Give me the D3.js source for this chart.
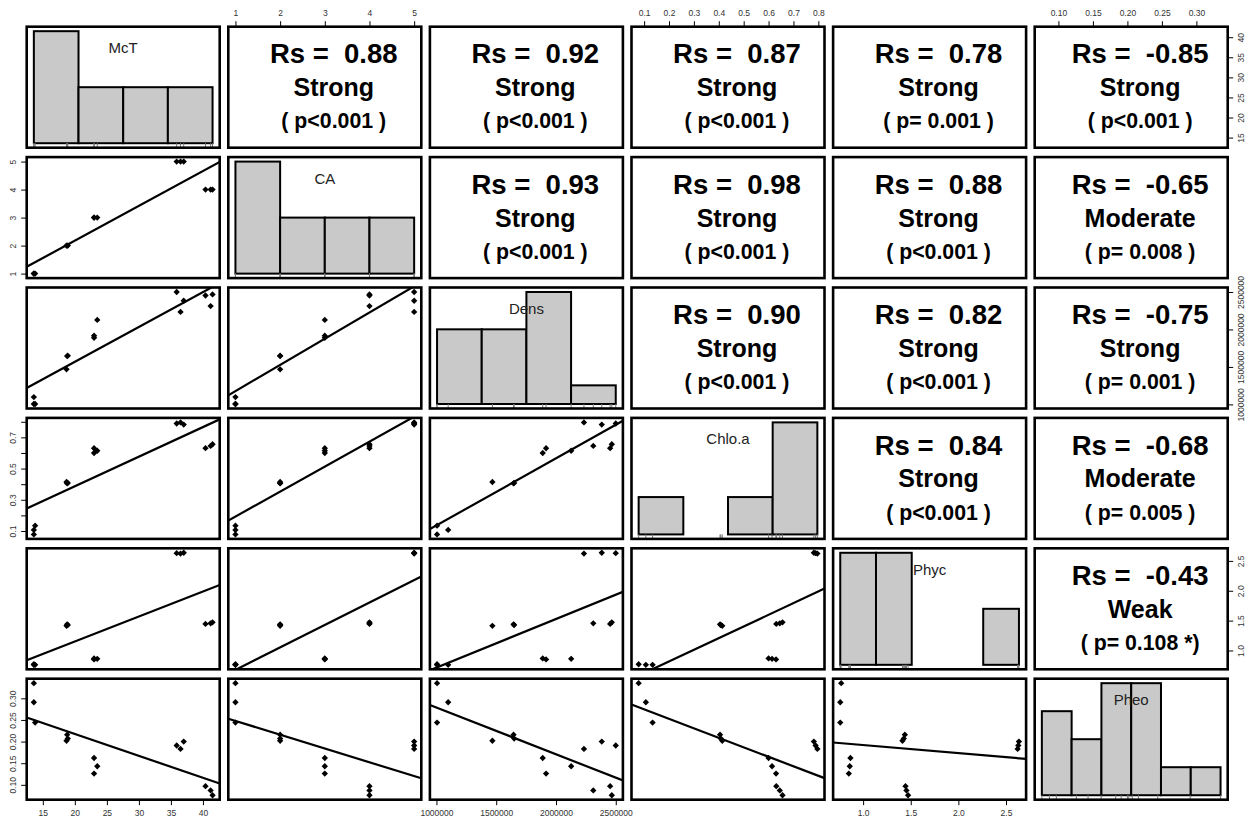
<!DOCTYPE html>
<html>
<head>
<meta charset="utf-8">
<script src="https://cdn.jsdelivr.net/npm/d3@7"></script>
<style>
  body { margin: 0; background: #fff; }
  svg { display: block; }
  text { font-family: "Liberation Sans", Arial, sans-serif; }
</style>
</head>
<body>
<svg></svg>
<script>
// 15 samples, 5 groups of 3
const varNames = ['McT', 'CA', 'Dens', 'Chlo.a', 'Phyc', 'Pheo']
const sampleMcT  = [13.6, 13.6, 13.8, 18.7, 18.8, 18.9, 23.0, 23.5, 23.0, 40.4, 41.2, 41.5, 35.9, 36.5, 37.0]
const sampleCA   = [1, 1, 1, 2, 2, 2, 3, 3, 3, 4, 4, 4, 5, 5, 5]
const sampleDens = [1005000, 1098000, 1005000, 1468000, 1645000, 1650000, 1889000, 2127000, 1917000,
                    2453000, 2312000, 2467000, 2500000, 2234000, 2383000]
const sampleChlo = [0.078, 0.107, 0.134, 0.414, 0.405, 0.408, 0.600, 0.614, 0.630, 0.631, 0.645, 0.656, 0.789, 0.796, 0.782]
const samplePhyc = [0.77, 0.76, 0.76, 1.413, 1.438, 1.427, 0.867, 0.860, 0.850, 1.445, 1.455, 1.472, 2.629, 2.622, 2.636]
const samplePheo = [0.335, 0.291, 0.244, 0.202, 0.216, 0.207, 0.162, 0.143, 0.126, 0.097, 0.087, 0.076, 0.191, 0.183, 0.200]

// histogram counts on the diagonal
const histMcT  = [6, 3, 3, 3]
const histCA   = [6, 3, 3, 3]
const histDens = [4, 4, 6, 1]
const histChlo = [3, 0, 3, 9]
const histPhyc = [6, 6, 0, 0, 3]
const histPheo = [3, 2, 4, 4, 1, 1]

// upper panels, row by row
const rsValues   = [0.88, 0.92, 0.87, 0.78, -0.85, 0.93, 0.98, 0.88, -0.65, 0.90, 0.82, -0.75, 0.84, -0.68, -0.43]
const rsStrength = ['Strong', 'Strong', 'Strong', 'Strong', 'Strong', 'Strong', 'Strong', 'Strong', 'Moderate',
                    'Strong', 'Strong', 'Strong', 'Strong', 'Moderate', 'Weak']
const rsP = ['( p<0.001 )', '( p<0.001 )', '( p<0.001 )', '( p= 0.001 )', '( p<0.001 )',
             '( p<0.001 )', '( p<0.001 )', '( p<0.001 )', '( p= 0.008 )',
             '( p<0.001 )', '( p<0.001 )', '( p= 0.001 )',
             '( p<0.001 )', '( p= 0.005 )', '( p= 0.108 *)']

// tick values and labels
const mctTicks  = [15, 20, 25, 30, 35, 40]
const caTicks   = [1, 2, 3, 4, 5]
const densTicks = [1000000, 1500000, 2000000, 2500000]
const chloTicks = [0.1, 0.2, 0.3, 0.4, 0.5, 0.6, 0.7, 0.8]
const phycTicks = [1.0, 1.5, 2.0, 2.5]
const pheoTicks = [0.10, 0.15, 0.20, 0.25, 0.30]
const mctLabels  = ['15', '20', '25', '30', '35', '40']
const caLabels   = ['1', '2', '3', '4', '5']
const densLabels = ['1000000', '1500000', '2000000', '2500000']
const chloTopLabels  = ['0.1', '0.2', '0.3', '0.4', '0.5', '0.6', '0.7', '0.8']
const chloLeftLabels = ['0.1', '', '0.3', '', '0.5', '', '0.7', '']
const phycLabels = ['1.0', '1.5', '2.0', '2.5']
const pheoLabels = ['0.10', '0.15', '0.20', '0.25', '0.30']

const columns = [sampleMcT, sampleCA, sampleDens, sampleChlo, samplePhyc, samplePheo]
const hists = [histMcT, histCA, histDens, histChlo, histPhyc, histPheo]

const W = 1246, H = 819
const marginLeft = 26.7, marginTop = 26.7
const pw = 193, ph = 121
const stepX = 201.6, stepY = 130.4
const n = varNames.length

let svg = d3.select('svg').attr('width', W).attr('height', H)
svg.append('rect').attr('width', W).attr('height', H).attr('fill', '#fff')

function padded(vals) {
  let [a, b] = d3.extent(vals)
  let r = b - a
  return [a - 0.04 * r, b + 0.04 * r]
}

let xScales = columns.map((v, j) => d3.scaleLinear().domain(padded(v))
  .range([marginLeft + j * stepX, marginLeft + j * stepX + pw]))
let yScales = columns.map((v, i) => d3.scaleLinear().domain(padded(v))
  .range([marginTop + i * stepY + ph, marginTop + i * stepY]))

let defs = svg.append('defs')
let diamond = d3.symbol(d3.symbolSquare, 20)
let upperIdx = 0

for (let i = 0; i < n; i++) {
  for (let j = 0; j < n; j++) {
    let x = xScales[j], y = yScales[i]
    let x0 = x.range()[0], y0 = y.range()[1]
    let g = svg.append('g')

    if (i > j) {
      // scatter + lm line
      let id = `clip-${i}-${j}`
      defs.append('clipPath').attr('id', id)
        .append('rect').attr('x', x0).attr('y', y0).attr('width', pw).attr('height', ph)
      let xs = columns[j], ys = columns[i]
      let pts = xs.map((d, k) => [d, ys[k]])
      let mx = d3.mean(xs), my = d3.mean(ys)
      let slope = d3.sum(pts, p => (p[0] - mx) * (p[1] - my)) / d3.sum(xs, d => (d - mx) ** 2)
      let icpt = my - slope * mx
      let dom = x.domain()
      g.append('line')
        .attr('clip-path', `url(#${id})`)
        .attr('x1', x(dom[0])).attr('y1', y(icpt + slope * dom[0]))
        .attr('x2', x(dom[1])).attr('y2', y(icpt + slope * dom[1]))
        .attr('stroke', '#000').attr('stroke-width', 2.2)
      g.selectAll('path.pt')
        .data(pts)
        .enter()
        .append('path')
        .attr('class', 'pt')
        .attr('d', diamond)
        .attr('transform', d => `translate(${x(d[0])},${y(d[1])}) rotate(45)`)
        .attr('fill', '#000')
    } else if (i === j) {
      // histogram, bars spread over the data range
      let counts = hists[i]
      let [lo, hi] = d3.extent(columns[i])
      let bx = d3.scaleLinear().domain([0, counts.length]).range([x(lo), x(hi)])
      let maxC = d3.max(counts)
      let by = d3.scaleLinear().domain([-0.04 * maxC, 1.04 * maxC]).range([y0 + ph, y0])
      let bars = counts.map((c, k) => ({c, k})).filter(d => d.c > 0)
      g.selectAll('rect.bar')
        .data(bars)
        .enter()
        .append('rect')
        .attr('class', 'bar')
        .attr('x', d => bx(d.k))
        .attr('width', d => bx(d.k + 1) - bx(d.k))
        .attr('y', d => by(d.c))
        .attr('height', d => by(0) - by(d.c))
        .attr('fill', '#c9c9c9').attr('stroke', '#000').attr('stroke-width', 2)
      // rug
      g.selectAll('line.rug')
        .data(columns[i])
        .enter()
        .append('line')
        .attr('class', 'rug')
        .attr('x1', d => x(d)).attr('x2', d => x(d))
        .attr('y1', y0 + ph).attr('y2', by(0))
        .attr('stroke', '#777').attr('stroke-width', 1)
      g.append('text')
        .attr('x', x0 + pw / 2).attr('y', y0 + 21)
        .attr('text-anchor', 'middle').attr('dominant-baseline', 'central')
        .style('font-size', '15px').attr('fill', '#222')
        .text(varNames[i])
    } else {
      // correlation text
      let ux = d3.scaleLinear().domain([-0.04, 1.04]).range([x0, x0 + pw])
      let uy = d3.scaleLinear().domain([-0.04, 1.04]).range([y0 + ph, y0])
      let k = upperIdx++
      let lines = [
        {t: 'Rs =  ' + rsValues[k].toFixed(2), v: 0.8, s: 27.5},
        {t: rsStrength[k], v: 0.5, s: 25},
        {t: rsP[k], v: 0.2, s: 21.3}
      ]
      g.selectAll('text')
        .data(lines)
        .enter()
        .append('text')
        .attr('x', ux(0.55))
        .attr('y', d => uy(d.v) + d.s * 0.358)
        .attr('text-anchor', 'middle')
        .style('white-space', 'pre')
        .style('font-weight', 'bold')
        .style('font-size', d => d.s + 'px')
        .attr('fill', '#000')
        .text(d => d.t)
    }

    g.append('rect')
      .attr('x', x0).attr('y', y0).attr('width', pw).attr('height', ph)
      .attr('fill', 'none').attr('stroke', '#000').attr('stroke-width', 2.6)
  }
}

// outer axes, alternating like pairs()
function drawAxis(kind, scale, ticks, labels, pos) {
  let gen = {top: d3.axisTop, bottom: d3.axisBottom, left: d3.axisLeft, right: d3.axisRight}[kind](scale)
    .tickValues(ticks)
    .tickFormat((d, k) => labels[k])
    .tickSize(5.5)
    .tickSizeOuter(0)
    .tickPadding(5)
  let tr = (kind === 'top' || kind === 'bottom') ? `translate(0,${pos})` : `translate(${pos},0)`
  let g = svg.append('g').attr('transform', tr).call(gen)
  g.attr('font-size', 8.5).attr('font-family', '"Liberation Sans", Arial, sans-serif')
  g.select('.domain').remove()
  let a = scale(ticks[0]), b = scale(ticks[ticks.length - 1])
  if (kind === 'top' || kind === 'bottom') {
    g.append('line').attr('x1', a).attr('x2', b).attr('stroke', '#000')
  } else {
    g.append('line').attr('y1', a).attr('y2', b).attr('stroke', '#000')
  }
  g.selectAll('.tick line').attr('stroke', '#000')
  g.selectAll('.tick text').attr('fill', '#333')
  if (kind === 'left' || kind === 'right') {
    let off = kind === 'left' ? -13.5 : 13.5
    g.selectAll('.tick text')
      .attr('x', 0).attr('dy', 0)
      .attr('y', off)
      .attr('transform', 'rotate(-90)')
      .attr('text-anchor', 'middle')
      .attr('dominant-baseline', 'central')
  }
}

let topY = marginTop
let bottomY = marginTop + (n - 1) * stepY + ph
let leftX = marginLeft
let rightX = marginLeft + (n - 1) * stepX + pw

drawAxis('top', xScales[1], caTicks, caLabels, topY)
drawAxis('top', xScales[3], chloTicks, chloTopLabels, topY)
drawAxis('top', xScales[5], pheoTicks, pheoLabels, topY)
drawAxis('bottom', xScales[0], mctTicks, mctLabels, bottomY)
drawAxis('bottom', xScales[2], densTicks, densLabels, bottomY)
drawAxis('bottom', xScales[4], phycTicks, phycLabels, bottomY)
drawAxis('left', yScales[1], caTicks, caLabels, leftX)
drawAxis('left', yScales[3], chloTicks, chloLeftLabels, leftX)
drawAxis('left', yScales[5], pheoTicks, pheoLabels, leftX)
drawAxis('right', yScales[0], mctTicks, mctLabels, rightX)
drawAxis('right', yScales[2], densTicks, densLabels, rightX)
drawAxis('right', yScales[4], phycTicks, phycLabels, rightX)
</script>
</body>
</html>
